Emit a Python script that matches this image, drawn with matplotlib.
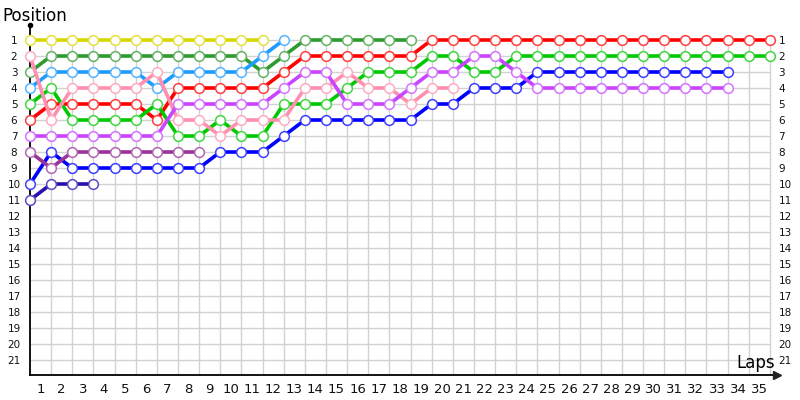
import matplotlib
matplotlib.use("Agg")
import matplotlib.pyplot as plt
from matplotlib.colors import to_rgb


# positions per lap, starting at lap 0 (grid)
yellow = [1, 1, 1, 1, 1, 1, 1, 1, 1, 1, 1, 1]
dark_green = [3, 2, 2, 2, 2, 2, 2, 2, 2, 2, 2, 3, 2, 1, 1, 1, 1, 1, 1]
light_blue = [4, 3, 3, 3, 3, 3, 4, 3, 3, 3, 3, 2, 1]
red = [6, 5, 5, 5, 5, 5, 6, 4, 4, 4, 4, 4, 3, 2, 2, 2, 2, 2, 2, 1,
       1, 1, 1, 1, 1, 1, 1, 1, 1, 1, 1, 1, 1, 1, 1, 1]
green = [5, 4, 6, 6, 6, 6, 5, 7, 7, 6, 7, 7, 5, 5, 5, 4, 3, 3, 3, 2,
         2, 3, 3, 2, 2, 2, 2, 2, 2, 2, 2, 2, 2, 2, 2, 2]
pink = [2, 6, 4, 4, 4, 4, 3, 6, 6, 7, 6, 6, 6, 4, 4, 3, 4, 4, 5, 4, 4]
purple = [7, 7, 7, 7, 7, 7, 7, 5, 5, 5, 5, 5, 4, 3, 3, 5, 5, 5, 4, 3,
          3, 2, 2, 3, 4, 4, 4, 4, 4, 4, 4, 4, 4, 4]
dark_purple = [8, 9, 8, 8, 8, 8, 8, 8, 8]
blue = [10, 8, 9, 9, 9, 9, 9, 9, 9, 8, 8, 8, 7, 6, 6, 6, 6, 6, 6, 5,
        5, 4, 4, 4, 3, 3, 3, 3, 3, 3, 3, 3, 3, 3]
navy = [11, 10, 10, 10]

lap_labels = [str(i) for i in range(1, 36)]
position_labels = [str(i) for i in range(1, 22)]

series = [
    (yellow, "#d8d800"),
    (dark_green, "#2f9a2f"),
    (light_blue, "#1e9bff"),
    (red, "#ff0000"),
    (green, "#00c800"),
    (pink, "#ff8fae"),
    (blue, "#0000ff"),
    (navy, "#2a0fb0"),
    (dark_purple, "#993399"),
    (purple, "#c844ff"),
]

plt.rcParams["font.family"] = "DejaVu Sans"

fig = plt.figure(figsize=(8, 4), dpi=100)
ax = fig.add_axes([30 / 800, 25 / 400, 747 / 800, 350 / 400])
x_max = 747 / 21.14
y_bottom = 1 + 335 / 16
y_top = 1 - 15 / 16
ax.set_xlim(0, x_max)
ax.set_ylim(y_bottom, y_top)

n_laps = len(lap_labels)
n_pos = len(position_labels)
grid_c = "#d2d2d2"
ax.hlines(range(1, n_pos + 1), 0, n_laps, color=grid_c, lw=1, zorder=0)
ax.vlines(range(1, n_laps + 1), 1 - 5 / 16, y_bottom, color=grid_c, lw=1, zorder=0)

for values, color in series:
    rgb = to_rgb(color)
    edge = tuple(c + (1 - c) * 0.25 for c in rgb)
    ax.plot(range(len(values)), values, color=color, lw=2.6,
            marker="o", ms=7, mfc="white", mec=edge, mew=1.1,
            solid_capstyle="round", zorder=3, clip_on=False)

for side in ("top", "right"):
    ax.spines[side].set_visible(False)
for side in ("left", "bottom"):
    ax.spines[side].set_color("black")
    ax.spines[side].set_linewidth(1.3)

ax.plot([x_max], [y_bottom], marker=">", ms=6, color="#222222", clip_on=False, zorder=5)
ax.plot([0], [y_top], marker="o", ms=3, color="black", clip_on=False, zorder=5)

ax.set_xticks([i + 0.5 for i in range(n_laps)], lap_labels)
ax.tick_params(axis="x", length=0, pad=6, labelsize=9.5, labelcolor="#111111")
ax.set_yticks(range(1, n_pos + 1), position_labels)
ax.tick_params(axis="y", length=0, pad=11.5, labelsize=7.5, labelcolor="#111111")
for lbl in ax.get_yticklabels():
    lbl.set_horizontalalignment("center")

ax2 = ax.twinx()
ax2.set_ylim(y_bottom, y_top)
ax2.set_yticks(range(1, n_pos + 1), position_labels)
ax2.tick_params(axis="y", length=0, pad=1, labelsize=7.5, labelcolor="#111111")
for s in ax2.spines.values():
    s.set_visible(False)

fig.text(2 / 800, 1 - 16 / 400, "Position", fontsize=12, ha="left", va="center")
fig.text(775 / 800, 1 - 363 / 400, "Laps", fontsize=12, ha="right", va="center")

fig.savefig("out.png", dpi=100)
